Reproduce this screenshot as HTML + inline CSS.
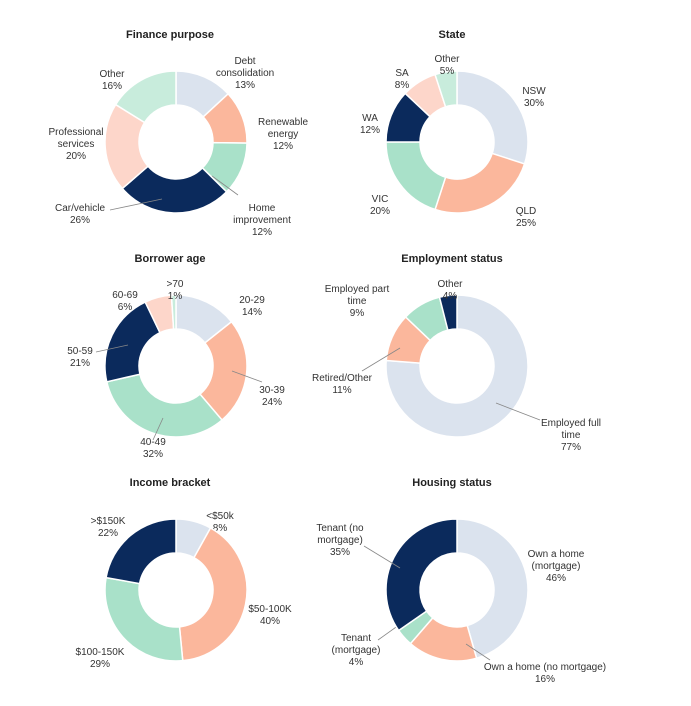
<!DOCTYPE html>
<html><head><meta charset="utf-8"><style>
html,body{margin:0;padding:0;background:#fff;}
svg{display:block;font-family:"Liberation Sans",Arial,sans-serif;}
</style></head><body>
<svg id="c" width="691" height="706"></svg>
<script>
// ---- data ----
const fpLabels=["Debt consolidation","Renewable energy","Home improvement","Car/vehicle","Professional services","Other"];
const fpValues=[13,12,12,26,20,16];
const stLabels=["NSW","QLD","VIC","WA","SA","Other"];
const stValues=[30,25,20,12,8,5];
const agLabels=["20-29","30-39","40-49","50-59","60-69",">70"];
const agValues=[14,24,32,21,6,1];
const emLabels=["Employed full time","Retired/Other","Employed part time","Other"];
const emValues=[77,11,9,4];
const inLabels=["<$50k","$50-100K","$100-150K",">$150K"];
const inValues=[8,40,29,22];
const hsLabels=["Own a home (mortgage)","Own a home (no mortgage)","Tenant (mortgage)","Tenant (no mortgage)"];
const hsValues=[46,16,4,35];

const colors=["#dbe3ee","#fbb79c","#a9e1c9","#0b2a5c","#fdd6ca","#c8ecdc"];
const svg=document.getElementById('c');
const NS="http://www.w3.org/2000/svg";
function mk(tag,attrs){const e=document.createElementNS(NS,tag);for(const k in attrs)e.setAttribute(k,attrs[k]);svg.appendChild(e);return e;}

// layout: center, title, label text lines & positions, leader lines
const charts=[
 {name:"finance-purpose",title:"Finance purpose",tx:170,ty:38,cx:176,cy:142,labels:fpLabels,values:fpValues,
  text:[[245,[60,72,84],["Debt","consolidation"]],[283,[121,133,145],["Renewable","energy"]],[262,[207,219,231],["Home","improvement"]],[80,[207,219],["Car/vehicle"]],[76,[131,143,155],["Professional","services"]],[112,[73,85],["Other"]]],
  lines:[null,null,[238,195,212,176],[110,210,162,199],null,null]},
 {name:"state",title:"State",tx:452,ty:38,cx:457,cy:142,labels:stLabels,values:stValues,
  text:[[534,[90,102],["NSW"]],[526,[210,222],["QLD"]],[380,[198,210],["VIC"]],[370,[117,129],["WA"]],[402,[72,84],["SA"]],[447,[58,70],["Other"]]],
  lines:[]},
 {name:"borrower-age",title:"Borrower age",tx:170,ty:262,cx:176,cy:366,labels:agLabels,values:agValues,
  text:[[252,[299,311],["20-29"]],[272,[389,401],["30-39"]],[153,[441,453],["40-49"]],[80,[350,362],["50-59"]],[125,[294,306],["60-69"]],[175,[283,295],[">70"]]],
  lines:[null,[262,382,232,371],[153,440,163,418],[96,352,128,345],null,null]},
 {name:"employment-status",title:"Employment status",tx:452,ty:262,cx:457,cy:366,labels:emLabels,values:emValues,
  text:[[571,[422,434,446],["Employed full","time"]],[342,[377,389],["Retired/Other"]],[357,[288,300,312],["Employed part","time"]],[450,[283,295],["Other"]]],
  lines:[[540,420,496,403],[362,371,400,348],null,null]},
 {name:"income-bracket",title:"Income bracket",tx:170,ty:486,cx:176,cy:590,labels:inLabels,values:inValues,
  text:[[220,[515,527],["<$50k"]],[270,[608,620],["$50-100K"]],[100,[651,663],["$100-150K"]],[108,[520,532],[">$150K"]]],
  lines:[]},
 {name:"housing-status",title:"Housing status",tx:452,ty:486,cx:457,cy:590,labels:hsLabels,values:hsValues,
  text:[[556,[553,565,577],["Own a home","(mortgage)"]],[545,[666,678],["Own a home (no mortgage)"]],[356,[637,649,661],["Tenant","(mortgage)"]],[340,[527,539,551],["Tenant (no","mortgage)"]]],
  lines:[null,[490,660,466,644],[378,640,406,620],[364,546,400,568]]}
];
const RO=71, RI=37;
charts.forEach(ch=>{
  const t=mk('text',{x:ch.tx,y:ch.ty,'text-anchor':'middle','font-size':'11','font-weight':'bold',fill:'#222'});
  t.textContent=ch.title;
  
  
  const total=ch.values.reduce((a,b)=>a+b,0);
  let acc=0;
  ch.values.forEach((v,i)=>{
    const a0=acc/total*2*Math.PI, a1=(acc+v)/total*2*Math.PI; acc+=v;
    const p=(r,a)=>[ch.cx+r*Math.sin(a),ch.cy-r*Math.cos(a)];
    const large=(a1-a0)>Math.PI?1:0;
    const [x0,y0]=p(RO,a0),[x1,y1]=p(RO,a1),[x2,y2]=p(RI,a1),[x3,y3]=p(RI,a0);
    const d=`M${x0},${y0}A${RO},${RO} 0 ${large} 1 ${x1},${y1}L${x2},${y2}A${RI},${RI} 0 ${large} 0 ${x3},${y3}Z`;
    const s=mk('path',{d:d,fill:colors[i],stroke:'#fff','stroke-width':'1.5'});
    
    
    const L=ch.lines[i];
    if(L){const l=mk('line',{x1:L[0],y1:L[1],x2:L[2],y2:L[3],stroke:'#888','stroke-width':'0.8'});
      
      }
    const T=ch.text[i];
    const lines=T[2].concat([v+'%']);
    lines.forEach((ln,j)=>{
      const tt=mk('text',{x:T[0],y:T[1][j]+4,'text-anchor':'middle','font-size':'10',fill:'#333'});
      tt.textContent=ln;
      
      
    });
  });
});
</script>
</body></html>
